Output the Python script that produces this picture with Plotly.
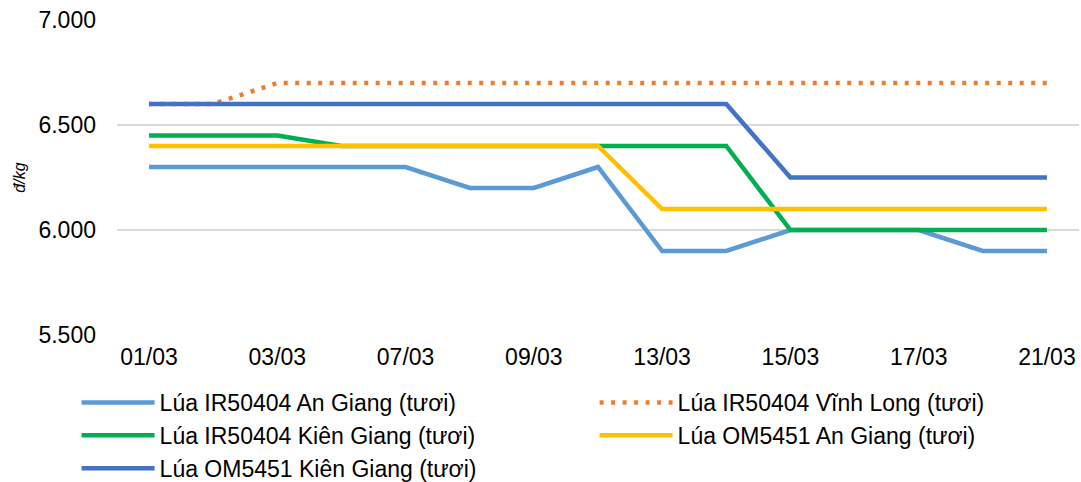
import plotly.graph_objects as go

dates = ["01/03", "02/03", "03/03", "06/03", "07/03", "08/03", "09/03", "10/03",
         "13/03", "14/03", "15/03", "16/03", "17/03", "20/03", "21/03"]
tick_labels = ["01/03", "03/03", "07/03", "09/03", "13/03", "15/03", "17/03", "21/03"]

ir50404_an_giang = [6300, 6300, 6300, 6300, 6300, 6200, 6200, 6300, 5900, 5900, 6000, 6000, 6000, 5900, 5900]
ir50404_vinh_long = [6600, 6600, 6700, 6700, 6700, 6700, 6700, 6700, 6700, 6700, 6700, 6700, 6700, 6700, 6700]
ir50404_kien_giang = [6450, 6450, 6450, 6400, 6400, 6400, 6400, 6400, 6400, 6400, 6000, 6000, 6000, 6000, 6000]
om5451_an_giang = [6400, 6400, 6400, 6400, 6400, 6400, 6400, 6400, 6100, 6100, 6100, 6100, 6100, 6100, 6100]
om5451_kien_giang = [6600, 6600, 6600, 6600, 6600, 6600, 6600, 6600, 6600, 6600, 6250, 6250, 6250, 6250, 6250]

series = [
    ("Lúa IR50404 An Giang (tươi)", ir50404_an_giang, "#5B9BD5", "solid"),
    ("Lúa IR50404 Vĩnh Long (tươi)", ir50404_vinh_long, "#ED7D31", "4px,7.5px"),
    ("Lúa IR50404 Kiên Giang (tươi)", ir50404_kien_giang, "#00B050", "solid"),
    ("Lúa OM5451 An Giang (tươi)", om5451_an_giang, "#FFC000", "solid"),
    ("Lúa OM5451 Kiên Giang (tươi)", om5451_kien_giang, "#4472C4", "solid"),
]

fig = go.Figure()
for name, vals, color, dash in series:
    fig.add_trace(go.Scatter(
        x=dates, y=vals, name=name, mode="lines",
        line=dict(color=color, width=4.5, dash=dash),
    ))

font_family = "Liberation Sans, Arial, sans-serif"
fig.update_layout(
    width=1081, height=482,
    margin=dict(l=117, r=2, t=20, b=147, autoexpand=False),
    paper_bgcolor="white", plot_bgcolor="white",
    separators=",.",
    font=dict(family=font_family, size=23, color="#000000"),
    showlegend=True,
    legend=dict(
        orientation="h", x=-0.042, xanchor="left", y=-0.146, yanchor="top",
        entrywidth=430, entrywidthmode="pixels", itemwidth=73,
        font=dict(family=font_family, size=23, color="#000000"),
        tracegroupgap=0, traceorder="normal",
        bgcolor="rgba(0,0,0,0)",
    ),
    xaxis=dict(
        type="category", range=[-0.5, 14.5],
        tickmode="array", tickvals=tick_labels, ticktext=tick_labels,
        showgrid=False, showline=False, ticks="", zeroline=False,
        tickfont=dict(size=23), ticklabelstandoff=6,
    ),
    yaxis=dict(
        range=[5500, 7000], tickvals=[5500, 6000, 6500, 7000],
        tickformat=",d", showgrid=True, gridcolor="#D9D9D9", gridwidth=1.5,
        zeroline=False, showline=False, ticks="",
        tickfont=dict(size=23), ticklabelstandoff=20,
        title=dict(text="<i>đ/kg</i>", font=dict(size=16), standoff=8),
    ),
)

fig.write_html(
    "out.html",
    config={"displayModeBar": False},
    post_script="document.body.style.margin='0';document.body.style.overflow='hidden';",
)
